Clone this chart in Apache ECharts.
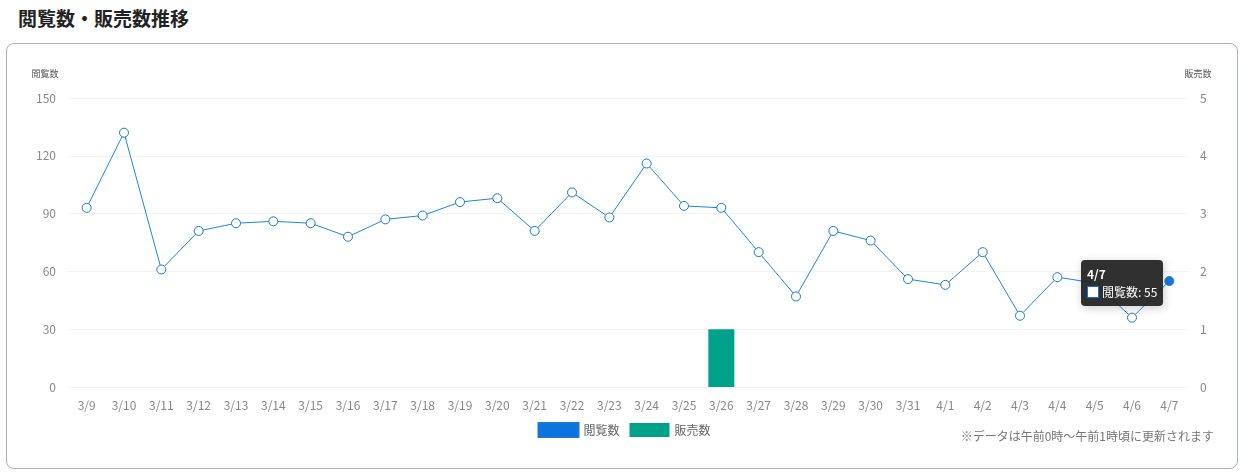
<!DOCTYPE html>
<html><head><meta charset="utf-8">
<script src="https://cdn.jsdelivr.net/npm/echarts@6/dist/echarts.min.js"></script>
<style>
body{margin:0;background:#fff;font-family:"Noto Sans CJK JP",sans-serif;}
h2{position:absolute;left:18px;top:4px;margin:0;font-size:19px;font-weight:bold;color:#222;}
#card{position:absolute;left:6px;top:43px;width:1230px;height:424px;border:1px solid #a9b2b8;border-radius:8px;}
#c{position:absolute;left:0;top:43px;width:1248px;height:425px;}
#note{position:absolute;right:34px;top:427px;font-size:12px;color:#777;}
</style></head><body>
<h2>閲覧数・販売数推移</h2>
<div id="card"></div>
<div id="c"></div>
<div id="note">※データは午前0時〜午前1時頃に更新されます</div>
<script>
const categories = ['3/9','3/10','3/11','3/12','3/13','3/14','3/15','3/16','3/17','3/18','3/19','3/20','3/21','3/22','3/23','3/24','3/25','3/26','3/27','3/28','3/29','3/30','3/31','4/1','4/2','4/3','4/4','4/5','4/6','4/7']
const views = [93,132,61,81,85,86,85,78,87,89,96,98,81,101,88,116,94,93,70,47,81,76,56,53,70,37,57,54,36,55]
const sales = [0,0,0,0,0,0,0,0,0,0,0,0,0,0,0,0,0,1,0,0,0,0,0,0,0,0,0,0,0,0]

const chart = echarts.init(document.getElementById('c'))
const axisText = { color: '#888', fontSize: 12 }
chart.setOption({
  animation: false,
  textStyle: { fontFamily: '"Noto Sans CJK JP", sans-serif' },
  grid: { left: 68, right: 60, top: 55, bottom: 81 },
  legend: {
    bottom: 25, left: 'center', itemWidth: 40, itemHeight: 14, itemGap: 10,
    textStyle: { color: '#666', fontSize: 12 },
    data: [{ name: '閲覧数', icon: 'rect', itemStyle: { color: '#0b74e0' } },
           { name: '販売数', icon: 'rect', itemStyle: { color: '#00a28a' } }]
  },
  tooltip: {
    trigger: 'item', backgroundColor: 'rgba(30,30,30,0.92)', borderWidth: 0, padding: [5, 6],
    textStyle: { color: '#fff', fontSize: 12 },
    position: (pt) => [pt[0] - 88, pt[1] - 21],
    formatter: p => '<b>' + p.name + '</b><br><span style="display:inline-block;width:10px;height:10px;background:#fff;border:1px solid #0b74e0;margin-right:3px;vertical-align:-1px"></span>' + p.seriesName + ': ' + p.value
  },
  xAxis: {
    type: 'category', data: categories,
    axisLine: { show: false }, axisTick: { show: false },
    axisLabel: { ...axisText, margin: 12 }
  },
  yAxis: [
    { type: 'value', name: '閲覧数', min: 0, max: 150, interval: 30,
      nameTextStyle: { color: '#555', fontSize: 9, padding: [0, 46, 0, 0] }, nameGap: 20,
      axisLabel: { ...axisText, margin: 12 }, splitLine: { lineStyle: { color: '#f3f3f3' } } },
    { type: 'value', name: '販売数', min: 0, max: 5, interval: 1,
      nameTextStyle: { color: '#555', fontSize: 9, padding: [0, 0, 0, 20] }, nameGap: 20,
      axisLabel: { ...axisText, margin: 12 }, splitLine: { show: false } }
  ],
  series: [
    { name: '閲覧数', type: 'line', data: views,
      lineStyle: { width: 1, color: '#1a78d2' }, symbol: 'circle', symbolSize: 9,
      itemStyle: { color: '#fff', borderColor: '#1a78d2', borderWidth: 1 },
      emphasis: { scale: 1, itemStyle: { color: '#1a78d2' } } },
    { name: '販売数', type: 'bar', yAxisIndex: 1, data: sales, barWidth: 26,
      itemStyle: { color: '#00a28a' } }
  ]
})
chart.dispatchAction({ type: 'showTip', seriesIndex: 0, dataIndex: 29 })
chart.dispatchAction({ type: 'highlight', seriesIndex: 0, dataIndex: 29 })
</script></body></html>
